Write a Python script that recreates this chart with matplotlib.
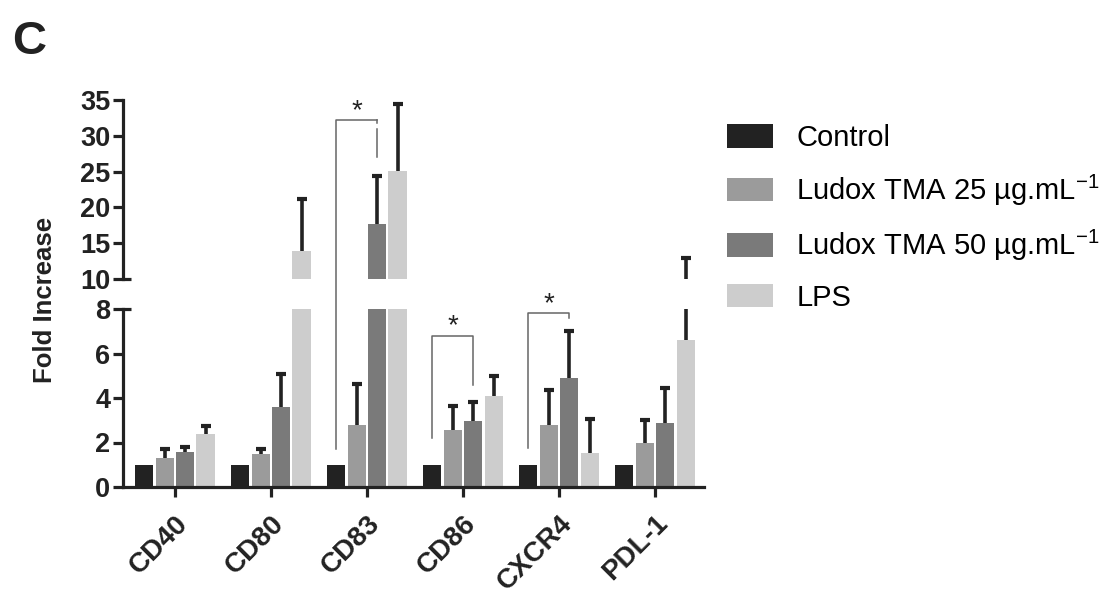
import numpy as np
import matplotlib
matplotlib.use("Agg")
import matplotlib.pyplot as plt
from matplotlib.patches import Patch

plt.rcParams['font.family'] = ['Liberation Sans', 'DejaVu Sans']
plt.rcParams['mathtext.fontset'] = 'custom'
plt.rcParams['mathtext.rm'] = 'Liberation Sans'

# ---- data ----
markers = ["CD40", "CD80", "CD83", "CD86", "CXCR4", "PDL-1"]
series = ["Control", "Ludox TMA 25 µg.mL$^{-1}$", "Ludox TMA 50 µg.mL$^{-1}$", "LPS"]
control = [1, 1, 1, 1, 1, 1]
ludox25 = [1.3, 1.47, 2.8, 2.56, 2.8, 1.97]
ludox50 = [1.57, 3.6, 17.7, 2.97, 4.9, 2.87]
lps = [2.4, 13.9, 25.1, 4.1, 1.53, 6.6]
# upper error only (SD)
err_control = [0, 0, 0, 0, 0, 0]
err_ludox25 = [0.4, 0.23, 1.83, 1.09, 1.55, 1.03]
err_ludox50 = [0.23, 1.47, 6.7, 0.83, 2.1, 1.58]
err_lps = [0.35, 7.3, 9.3, 0.9, 1.52, 6.3]
colors = ["#222222", "#9b9b9b", "#7a7a7a", "#cdcdcd"]

# significance brackets: (group, bar_a, bar_b, y_bracket, leg_a_bottom, leg_b_bottom)
sig = [(2, 0, 2, 32.2, 1.7, 27.0),
       (3, 0, 2, 6.8, 2.2, 4.6),
       (4, 0, 2, 7.8, 1.75, 7.6)]

values = [control, ludox25, ludox50, lps]
errors = [err_control, err_ludox25, err_ludox50, err_lps]

W, H = 1111, 599
fig = plt.figure(figsize=(W / 100, H / 100), dpi=100)
ax_lo = fig.add_axes([123 / W, 1 - 487 / H, 581 / W, 178 / H])
ax_hi = fig.add_axes([123 / W, 1 - 279 / H, 581 / W, 179 / H])

x = np.arange(len(markers))
pitch = 0.213
width = 0.19
offsets = (np.arange(4) - 1.5) * pitch
ink = "#222222"
lw_axis = 2.3

for ax in (ax_lo, ax_hi):
    ax.patch.set_visible(False)
    for i in range(4):
        v = np.array(values[i])
        e = np.array(errors[i])
        xs = x + offsets[i]
        ax.bar(xs, v, width=width, color=colors[i], zorder=2)
        m = e > 0
        ax.vlines(xs[m], v[m], v[m] + e[m], color=ink, lw=2.6, zorder=3)
        ax.plot(xs[m], v[m] + e[m], ls="none", marker="_", ms=7, mew=3,
                color=ink, zorder=3)
    ax.set_xlim(-0.54, 5.51)
    for s in ("top", "right"):
        ax.spines[s].set_visible(False)
    ax.spines["left"].set_linewidth(lw_axis)
    ax.spines["left"].set_color(ink)
    ax.tick_params(axis="y", length=7, width=lw_axis, color=ink,
                   labelsize=19.5, pad=2)

ax_lo.set_ylim(0, 8)
ax_lo.set_yticks([0, 2, 4, 6, 8])
ax_hi.set_ylim(10, 35)
ax_hi.set_yticks([10, 15, 20, 25, 30, 35])
for ax in (ax_lo, ax_hi):
    for lab in ax.get_yticklabels():
        lab.set_fontweight("bold")
        lab.set_color(ink)

ax_hi.spines["bottom"].set_visible(False)
ax_hi.set_xticks([])

ax_lo.spines["bottom"].set_linewidth(lw_axis)
ax_lo.spines["bottom"].set_color(ink)
ax_lo.set_xticks(x)
ax_lo.set_xticklabels(markers, rotation=45, ha="right", rotation_mode="anchor",
                      fontsize=20, fontweight="bold", color=ink)
ax_lo.tick_params(axis="x", length=7, width=lw_axis, color=ink, pad=10)

# break marks: ticks at 8 and 10 cross the spine
ax_lo.plot([0, 0.014], [8, 8], transform=ax_lo.get_yaxis_transform(),
           color=ink, lw=lw_axis, clip_on=False, solid_capstyle="butt")
ax_hi.plot([0, 0.014], [10, 10], transform=ax_hi.get_yaxis_transform(),
           color=ink, lw=lw_axis, clip_on=False, solid_capstyle="butt")


def lo_from_hi(y):
    d = ax_hi.transData.transform((0, y))
    return ax_lo.transData.inverted().transform(d)[1]


# significance brackets
bcol = "#666666"
for g, a, b, yb, ya, yb2 in sig:
    xa = g + offsets[a]
    xb = g + offsets[b]
    if yb > 8:
        top = lo_from_hi(yb)
        ax_lo.plot([xa, xa, xb], [ya, top, top], color=bcol, lw=1.1,
                   clip_on=False, zorder=4)
        ax_lo.plot([xb, xb], [top, lo_from_hi(31.8)], color=bcol, lw=1.1,
                   clip_on=False, zorder=4)
        ax_hi.plot([xb, xb], [31.0, yb2], color=bcol, lw=1.1, zorder=4)
        ax_hi.text((xa + xb) / 2, yb + 0.3, "*", ha="center", va="baseline",
                   fontsize=20, color=ink, clip_on=False)
    else:
        ax_lo.plot([xa, xa, xb, xb], [ya, yb, yb, yb2], color=bcol, lw=1.1,
                   clip_on=False, zorder=4)
        ax_lo.text((xa + xb) / 2, yb + 0.1, "*", ha="center", va="baseline",
                   fontsize=20, color=ink, clip_on=False)

fig.text(45 / W, 1 - 300 / H, "Fold Increase", rotation=90, ha="center",
         va="center", fontsize=18.5, fontweight="bold", color=ink)
fig.text(12 / W, 1 - 42 / H, "C", ha="left", va="center", fontsize=34,
         fontweight="bold", color=ink)

handles = [Patch(facecolor=c, edgecolor="none") for c in colors]
fig.legend(handles, series, loc="upper left",
           bbox_to_anchor=(727 / W, 1 - 124 / H), frameon=False,
           fontsize=21, handlelength=1.58, handleheight=0.86,
           handletextpad=0.8, labelspacing=0.7, borderpad=0, borderaxespad=0)

fig.savefig("out.png", dpi=100)
